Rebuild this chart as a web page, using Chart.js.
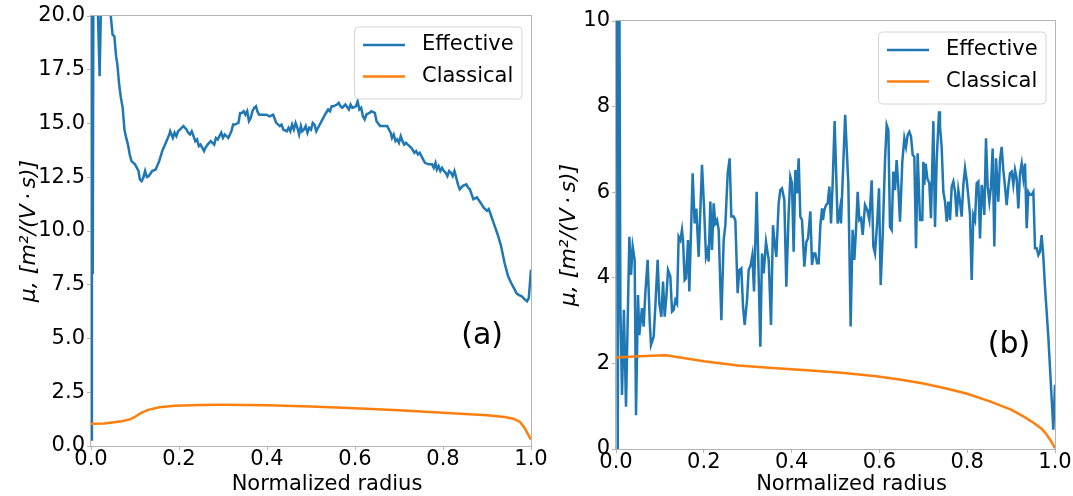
<!DOCTYPE html>
<html>
<head>
<meta charset="utf-8">
<script src="https://cdn.jsdelivr.net/npm/chart.js@4.4.0/dist/chart.umd.min.js"></script>
<style>
  html, body { margin: 0; padding: 0; background: #fff; }
  #wrap { position: relative; width: 1073px; height: 496px; }
  #chart-a { position: absolute; left: 0; top: 0; }
  #chart-b { position: absolute; left: 540px; top: 0; }
</style>
</head>
<body>
<div id="wrap">
  <canvas id="chart-a" width="560" height="496"></canvas>
  <canvas id="chart-b" width="533" height="496"></canvas>
</div>
<script>
// series names, axis texts and tick labels
const seriesNames = ['Effective', 'Classical'];
const xTitle = 'Normalized radius';
const yTitle = 'μ, [m²/(V\u2009·\u2009s)]';
const panelTags = ['(a)', '(b)'];

const xTicks = [0, 0.2, 0.4, 0.6, 0.8, 1.0];
const xTickLabels = ['0.0', '0.2', '0.4', '0.6', '0.8', '1.0'];
const yTicksA = [0, 2.5, 5, 7.5, 10, 12.5, 15, 17.5, 20];
const yTickLabelsA = ['0.0', '2.5', '5.0', '7.5', '10.0', '12.5', '15.0', '17.5', '20.0'];
const yTicksB = [0, 2, 4, 6, 8, 10];
const yTickLabelsB = ['0', '2', '4', '6', '8', '10'];

// panel (a) effective mobility
const effAx = [0, 0.002, 0.004, 0.006, 0.012, 0.0196, 0.025, 0.035, 0.045, 0.049, 0.053, 0.057, 0.060, 0.064, 0.068, 0.072, 0.076, 0.080, 0.084, 0.088,
  0.092, 0.100, 0.108, 0.111, 0.115, 0.119, 0.123, 0.127, 0.131, 0.139, 0.147, 0.155, 0.162, 0.170, 0.178, 0.180, 0.186, 0.190, 0.194, 0.198,
  0.202, 0.210, 0.217, 0.221, 0.225, 0.229, 0.233, 0.237, 0.241, 0.245, 0.249, 0.257, 0.260, 0.265, 0.272, 0.280, 0.284, 0.288, 0.296, 0.300,
  0.304, 0.312, 0.319, 0.323, 0.327, 0.335, 0.339, 0.343, 0.347, 0.351, 0.355, 0.359, 0.363, 0.367, 0.371, 0.375, 0.378, 0.382, 0.390, 0.398,
  0.406, 0.414, 0.421, 0.429, 0.433, 0.437, 0.445, 0.449, 0.453, 0.457, 0.461, 0.465, 0.469, 0.473, 0.477, 0.480, 0.484, 0.488, 0.492, 0.496,
  0.500, 0.504, 0.508, 0.512, 0.516, 0.524, 0.532, 0.539, 0.543, 0.547, 0.551, 0.559, 0.563, 0.567, 0.571, 0.578, 0.586, 0.590, 0.594, 0.602,
  0.606, 0.610, 0.614, 0.618, 0.622, 0.626, 0.633, 0.637, 0.645, 0.649, 0.657, 0.665, 0.673, 0.681, 0.684, 0.688, 0.692, 0.696, 0.700, 0.704,
  0.708, 0.712, 0.716, 0.720, 0.728, 0.735, 0.739, 0.743, 0.747, 0.751, 0.759, 0.767, 0.775, 0.779, 0.783, 0.786, 0.790, 0.794, 0.798, 0.802,
  0.806, 0.810, 0.814, 0.818, 0.822, 0.826, 0.830, 0.834, 0.838, 0.845, 0.853, 0.857, 0.861, 0.869, 0.877, 0.885, 0.892, 0.900, 0.904, 0.908,
  0.916, 0.924, 0.932, 0.940, 0.944, 0.948, 0.955, 0.963, 0.967, 0.971, 0.979, 0.987, 0.991, 0.995, 1.000];
const effAy = [0.3, 26, 8, 27, 23, 17.2, 23, 24, 20.0, 19.13, 19.06, 18.13, 17.74, 16.81, 16.19, 15.73, 14.72, 14.33, 14.02, 13.56,
  13.25, 13.1, 12.79, 12.4, 12.32, 12.48, 12.79, 12.51, 12.55, 12.79, 12.86, 13.25, 13.72, 14.1, 14.49, 14.64, 14.33, 14.57, 14.41, 14.64,
  14.72, 14.88, 14.72, 14.57, 14.49, 14.64, 14.41, 14.18, 14.26, 13.95, 14.02, 13.72, 13.87, 14.02, 14.18, 14.02, 14.33, 14.26, 14.57, 14.33,
  14.49, 14.33, 14.64, 14.95, 14.95, 15.03, 15.49, 15.49, 15.57, 15.41, 15.57, 15.11, 15.26, 15.57, 15.73, 15.8, 15.57, 15.41, 15.41, 15.41,
  15.33, 15.41, 15.03, 14.88, 14.95, 14.72, 14.64, 14.8, 14.64, 14.95, 14.72, 15.03, 14.8, 14.49, 14.88, 14.64, 14.72, 14.88, 14.57, 14.8,
  14.72, 15.03, 14.95, 14.64, 14.8, 15.11, 15.42, 15.65, 15.57, 15.8, 15.8, 15.88, 15.96, 15.8, 15.73, 15.88, 15.65, 15.88, 15.73, 15.8,
  16.04, 15.65, 15.73, 15.34, 15.19, 15.42, 15.49, 15.57, 15.49, 15.11, 14.88, 14.88, 14.88, 14.57, 14.33, 14.49, 14.18, 14.26, 14.1, 14.41,
  14.18, 14.02, 14.1, 14.02, 13.87, 13.64, 13.72, 13.56, 13.64, 13.48, 13.17, 13.1, 13.1, 12.94, 13.17, 12.86, 13.02, 12.79, 12.94, 12.79,
  12.71, 12.55, 12.79, 12.71, 12.55, 12.79, 12.48, 12.17, 11.94, 12.1, 12.17, 12.02, 11.94, 11.48, 11.56, 11.33, 11.1, 10.94, 11.02, 10.79,
  10.32, 9.85, 9.3, 8.5, 8.2, 7.89, 7.58, 7.27, 7.11, 7.04, 6.96, 6.8, 6.73, 6.88, 8.2];

// panel (a) classical mobility
const clsAx = [0, 0.03, 0.07, 0.09, 0.10, 0.115, 0.13, 0.155, 0.19, 0.25, 0.30, 0.35, 0.40, 0.50, 0.60, 0.70, 0.80, 0.90, 0.94, 0.96, 0.975, 0.985, 0.993, 1.0];
const clsAy = [1.04, 1.05, 1.15, 1.25, 1.36, 1.55, 1.68, 1.80, 1.87, 1.91, 1.92, 1.91, 1.89, 1.84, 1.76, 1.66, 1.55, 1.43, 1.35, 1.27, 1.12, 0.85, 0.55, 0.3];

// panel (b) effective mobility
const effBx = [0, 0.002, 0.004, 0.007, 0.010, 0.0137, 0.018, 0.0228, 0.0304, 0.0342, 0.038, 0.0425, 0.0456, 0.0501, 0.0531, 0.0592, 0.063, 0.0668, 0.0721, 0.0767,
  0.0797, 0.0858, 0.0896, 0.0949, 0.0987, 0.1033, 0.1071, 0.1109, 0.1147, 0.1185, 0.1238, 0.1276, 0.1313, 0.1352, 0.139, 0.1427, 0.1466, 0.1503, 0.1526, 0.1564,
  0.1594, 0.164, 0.167, 0.1746, 0.1792, 0.183, 0.1883, 0.1959, 0.2005, 0.205, 0.2088, 0.2111, 0.2149, 0.2187, 0.2225, 0.2263, 0.2301, 0.2339, 0.240, 0.2453,
  0.2491, 0.2544, 0.2589, 0.2627, 0.268, 0.2718, 0.2771, 0.2809, 0.2855, 0.2893, 0.2931, 0.2984, 0.3022, 0.3068, 0.3106, 0.3144, 0.3204, 0.325, 0.3288, 0.3326,
  0.3364, 0.3417, 0.3478, 0.3531, 0.3576, 0.3614, 0.3652, 0.3705, 0.3743, 0.3781, 0.3834, 0.388, 0.3933, 0.3971, 0.4009, 0.4047, 0.4085, 0.4123, 0.4161, 0.4199,
  0.4237, 0.429, 0.4336, 0.4374, 0.4427, 0.4465, 0.4503, 0.4541, 0.4579, 0.4617, 0.4655, 0.4693, 0.4715, 0.4746, 0.4784, 0.4822, 0.486, 0.4898, 0.4935, 0.498,
  0.5049, 0.5103, 0.5125, 0.522, 0.5292, 0.5345, 0.539, 0.5429, 0.5467, 0.5505, 0.5543, 0.5581, 0.5619, 0.5672, 0.5725, 0.5771, 0.5824, 0.5862, 0.59, 0.5953,
  0.5991, 0.6029, 0.6074, 0.6128, 0.6166, 0.6204, 0.6241, 0.6279, 0.6317, 0.6355, 0.6393, 0.6431, 0.6469, 0.6522, 0.6568, 0.6606, 0.6644, 0.6682, 0.672, 0.6758,
  0.6796, 0.6834, 0.6872, 0.6925, 0.6978, 0.7001, 0.7023, 0.7054, 0.7092, 0.7137, 0.7175, 0.7229, 0.7267, 0.7305, 0.7358, 0.738, 0.7418, 0.7457, 0.7495, 0.7533,
  0.7571, 0.7609, 0.7647, 0.7685, 0.7723, 0.7761, 0.7798, 0.7836, 0.7874, 0.7912, 0.795, 0.7988, 0.8026, 0.8064, 0.8102, 0.814, 0.8178, 0.8216, 0.8254, 0.8292,
  0.833, 0.8352, 0.839, 0.8428, 0.8466, 0.8504, 0.8542, 0.858, 0.8618, 0.8656, 0.8709, 0.8747, 0.8785, 0.8823, 0.8861, 0.8899, 0.8937, 0.8975, 0.9013, 0.9051,
  0.9089, 0.9127, 0.9165, 0.9203, 0.9241, 0.9279, 0.9317, 0.9355, 0.9393, 0.9431, 0.9469, 0.9507, 0.9545, 0.9583, 0.9621, 0.9658, 0.9696, 0.9734, 0.9772, 0.9848,
  0.9909, 0.9962, 1.0];
const effBy = [8.4, 13, 0.0, 13, 3.3, 1.26, 3.25, 0.99, 4.96, 4.07, 4.73, 4.42, 0.79, 3.6, 2.66, 3.29, 2.86, 3.64, 4.42, 3.01,
  2.43, 2.62, 3.33, 4.42, 3.4, 3.09, 3.91, 3.09, 3.56, 4.18, 4.03, 3.21, 3.25, 3.48, 3.4, 4.96, 4.88, 5.12, 4.88, 3.95,
  3.99, 4.88, 3.68, 6.44, 5.27, 5.62, 4.49, 6.64, 5.66, 4.49, 4.65, 4.38, 5.78, 4.65, 5.74, 5.27, 5.35, 5.12, 3.01, 4.88,
  5.23, 6.44, 6.79, 5.43, 5.43, 5.35, 3.64, 4.18, 4.22, 3.33, 2.9, 3.48, 4.18, 4.3, 4.53, 3.68, 6.01, 4.03, 2.39, 4.57,
  4.1, 4.84, 4.42, 2.9, 5.23, 4.81, 4.49, 5.74, 6.05, 6.09, 5.82, 3.79, 5.51, 6.36, 6.21, 4.61, 6.52, 5.97, 6.79, 5.43,
  5.35, 4.26, 4.84, 4.92, 5.55, 4.3, 4.57, 4.57, 4.34, 4.34, 5.23, 5.62, 5.35, 5.58, 5.7, 5.74, 6.13, 5.27, 6.2, 7.66,
  5.27, 5.62, 5.27, 7.81, 6.2, 2.86, 5.12, 4.42, 5.12, 6.01, 5.35, 5.39, 5.0, 5.7, 5.58, 5.35, 6.28, 4.73, 4.57, 5.35,
  6.09, 3.83, 4.96, 6.75, 7.57, 7.45, 5.19, 5.12, 6.48, 6.05, 6.75, 6.13, 5.31, 6.71, 7.26, 7.06, 7.34, 7.41, 7.3, 6.87,
  6.83, 4.69, 6.91, 5.35, 5.35, 6.71, 6.17, 6.67, 6.32, 6.21, 5.39, 7.66, 5.19, 6.75, 7.89, 7.53, 7.06, 6.01, 5.78, 5.31,
  5.78, 5.35, 6.13, 6.25, 6.01, 5.43, 6.05, 5.78, 5.43, 6.17, 6.56, 6.28, 5.9, 5.47, 3.95, 5.47, 5.35, 6.21, 6.25, 4.92,
  6.17, 6.01, 5.47, 7.26, 6.13, 5.78, 6.13, 7.02, 4.73, 6.79, 5.78, 6.75, 7.06, 6.52, 6.13, 5.7, 6.13, 6.44, 6.48, 6.17,
  6.52, 6.32, 5.62, 6.44, 6.67, 6.32, 6.67, 5.16, 6.01, 5.94, 5.94, 6.01, 4.69, 4.69, 4.53, 4.61, 5.0, 4.49, 3.79, 2.62,
  1.46, 0.45, 1.5];

// panel (b) classical mobility
const clsBx = [0, 0.04, 0.08, 0.113, 0.15, 0.2, 0.278, 0.357, 0.435, 0.514, 0.593, 0.65, 0.7, 0.75, 0.8, 0.85, 0.9, 0.93, 0.95, 0.97, 0.98, 0.99, 1.0];
const clsBy = [2.14, 2.16, 2.18, 2.19, 2.13, 2.05, 1.95, 1.89, 1.84, 1.78, 1.70, 1.62, 1.53, 1.42, 1.29, 1.12, 0.92, 0.75, 0.62, 0.47, 0.35, 0.2, 0.02];

const FONT = 'DejaVu Sans';
const BLUE = '#1f77b4';
const ORANGE = '#ff7f0e';
const SPINE = '#b4b4b4';

function pairs(xs, ys) {
  return xs.map((x, i) => ({ x: x, y: ys[i] }));
}

// grey box round the plot area, like matplotlib spines
const framePlugin = {
  id: 'frame',
  beforeDatasetsDraw(chart) {
    const { ctx, chartArea: a } = chart;
    ctx.save();
    ctx.strokeStyle = SPINE;
    ctx.lineWidth = 1;
    ctx.strokeRect(a.left - 0.5, a.top - 0.5, a.right - a.left + 1, a.bottom - a.top + 1);
    ctx.restore();
  }
};

// legend box in the upper right corner of the plot area
const boxLegendPlugin = {
  id: 'boxLegend',
  afterDatasetsDraw(chart) {
    const { ctx, chartArea: a } = chart;
    const items = chart.data.datasets;
    ctx.save();
    ctx.font = '21px "' + FONT + '"';
    const tw = Math.max(...items.map(d => ctx.measureText(d.label).width));
    const pad = 8.4, hl = 42, gap = 17, rowH = 31.5;
    const w = pad * 2 + hl + gap + tw, h = 72;
    const x0 = a.right - 9 - w, y0 = a.top + 11;
    ctx.beginPath();
    ctx.roundRect(x0, y0, w, h, 4);
    ctx.fillStyle = 'rgba(255,255,255,0.8)';
    ctx.fill();
    ctx.strokeStyle = '#d4d4d4';
    ctx.lineWidth = 1;
    ctx.stroke();
    items.forEach((d, i) => {
      const cy = y0 + 18 + i * rowH;
      ctx.strokeStyle = d.borderColor;
      ctx.lineWidth = 2.5;
      ctx.beginPath();
      ctx.moveTo(x0 + pad, cy);
      ctx.lineTo(x0 + pad + hl, cy);
      ctx.stroke();
      ctx.fillStyle = '#000';
      ctx.textBaseline = 'middle';
      ctx.textAlign = 'left';
      ctx.fillText(d.label, x0 + pad + hl + gap, cy);
    });
    ctx.restore();
  }
};

// "(a)" / "(b)" placed at a data position, plus the x axis title
// (the original x label sits a bit right of the axes centre)
const textPlugin = {
  id: 'texts',
  afterDatasetsDraw(chart, args, opts) {
    const { ctx, scales, chartArea: a } = chart;
    ctx.save();
    ctx.fillStyle = '#000';
    ctx.textAlign = 'center';
    ctx.textBaseline = 'middle';
    ctx.font = '30px "' + FONT + '"';
    ctx.fillText(opts.tag, scales.x.getPixelForValue(opts.tagAt[0]), scales.y.getPixelForValue(opts.tagAt[1]));
    ctx.font = '21px "' + FONT + '"';
    ctx.fillText(xTitle, (a.left + a.right) / 2 + 16, chart.height - 11);
    ctx.restore();
  }
};

function makeChart(canvas, p) {
  const tickFont = { family: FONT, size: 21, lineHeight: 1 };
  return new Chart(canvas.getContext('2d'), {
    type: 'line',
    data: {
      datasets: [
        { label: seriesNames[0], data: pairs(p.effX, p.effY), borderColor: BLUE, borderWidth: 2.5,
          pointRadius: 0, tension: 0, fill: false, clip: 0, order: 2 },
        { label: seriesNames[1], data: pairs(p.clsX, p.clsY), borderColor: ORANGE, borderWidth: 2.5,
          pointRadius: 0, tension: 0, fill: false, clip: 0, order: 1 }
      ]
    },
    options: {
      responsive: false,
      animation: false,
      events: [],
      layout: { padding: p.padding },
      scales: {
        x: {
          type: 'linear', min: 0, max: 1,
          afterBuildTicks: s => { s.ticks = xTicks.map(v => ({ value: v })); },
          afterFit: s => { s.height = p.xHeight; s.paddingLeft = 0; s.paddingRight = 0; },
          ticks: { callback: (v, i) => xTickLabels[i], font: tickFont, color: '#000', padding: -1, maxRotation: 0, autoSkip: false },
          grid: { display: true, drawOnChartArea: false, drawTicks: true, tickLength: 4, color: SPINE },
          border: { display: false },
          title: { display: false }
        },
        y: {
          type: 'linear', min: p.yMin, max: p.yMax,
          afterBuildTicks: s => { s.ticks = p.yTicks.map(v => ({ value: v })); },
          afterFit: s => { s.width = p.yWidth; s.paddingTop = 0; s.paddingBottom = 0; },
          ticks: { callback: (v, i) => p.yLabels[i], font: tickFont, color: '#000', padding: 2, autoSkip: false },
          grid: { display: true, drawOnChartArea: false, drawTicks: true, tickLength: 4, color: SPINE },
          border: { display: false },
          title: { display: true, text: yTitle, font: { family: FONT, size: 22, style: 'italic', lineHeight: 1.2 }, color: '#000',
                   padding: { top: 16, bottom: 0 } }
        }
      },
      plugins: {
        legend: { display: false },
        tooltip: { enabled: false },
        texts: { tag: p.tag, tagAt: p.tagAt }
      }
    },
    plugins: [framePlugin, boxLegendPlugin, textPlugin]
  });
}

makeChart(document.querySelector('#chart-a'), {
  effX: effAx, effY: effAy, clsX: clsAx, clsY: clsAy,
  yMin: 0, yMax: 20, yTicks: yTicksA, yLabels: yTickLabelsA,
  padding: { left: 0, top: 16, right: 29, bottom: 0 }, xHeight: 50, yWidth: 91,
  tag: panelTags[0], tagAt: [0.889, 5.1]
});

makeChart(document.querySelector('#chart-b'), {
  effX: effBx, effY: effBy, clsX: clsBx, clsY: clsBy,
  yMin: 0, yMax: 10, yTicks: yTicksB, yLabels: yTickLabelsB,
  padding: { left: 0, top: 21, right: 18, bottom: 0 }, xHeight: 47, yWidth: 76,
  tag: panelTags[1], tagAt: [0.895, 2.43]
});
</script>
</body>
</html>
